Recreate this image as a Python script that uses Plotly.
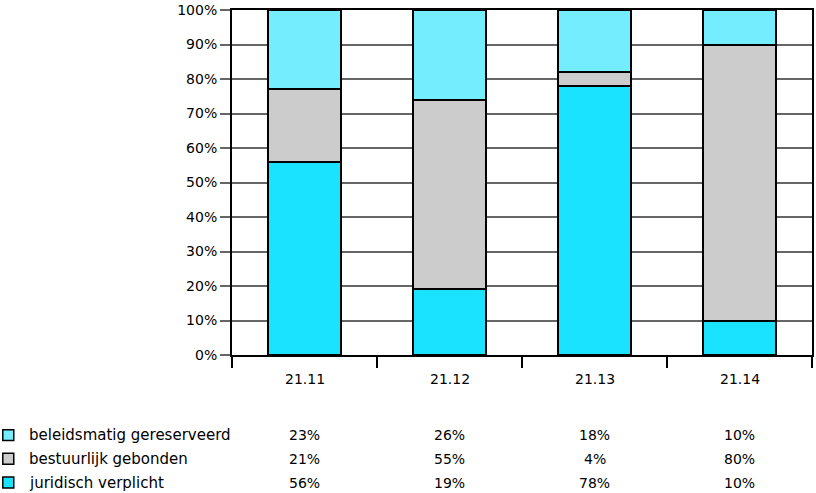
import plotly.graph_objects as go

categories = ["21.11", "21.12", "21.13", "21.14"]
series_names = ["juridisch verplicht", "bestuurlijk gebonden", "beleidsmatig gereserveerd"]
juridisch = [56, 19, 78, 10]
bestuurlijk = [21, 55, 4, 80]
beleidsmatig = [23, 26, 18, 10]
series_values = [juridisch, bestuurlijk, beleidsmatig]
colors = ["#1AE3FF", "#CCCCCC", "#74EEFF"]
y_ticks = [0, 10, 20, 30, 40, 50, 60, 70, 80, 90, 100]
y_tick_labels = [f"{v}%" for v in y_ticks]

FONT = "DejaVu Sans"
W, H = 816, 493
ML, MR, MT, MB = 232, 2, 6, 138
pw = W - ML - MR
ph = H - MT - MB

xpos = list(range(len(categories)))

fig = go.Figure()
for name, vals, col in zip(series_names, series_values, colors):
    fig.add_trace(go.Bar(
        x=xpos, y=vals, name=name, width=0.5,
        marker=dict(color=col, line=dict(color="black", width=2)),
        showlegend=False, hoverinfo="skip",
    ))

annotations = []
for i, c in enumerate(categories):
    annotations.append(dict(x=i, xref="x", y=(355 - 379) / ph, yref="paper",
                            text=c, showarrow=False, xanchor="center", yanchor="middle",
                            font=dict(family=FONT, size=14, color="black")))

table_order = [2, 1, 0]
row_y_px = [436, 460, 484]
shapes = []
for r, si in enumerate(table_order):
    yp = (355 - row_y_px[r]) / ph
    annotations.append(dict(x=(26 - ML) / pw, xref="paper", y=yp, yref="paper",
                            text=series_names[si], showarrow=False,
                            xanchor="left", yanchor="middle",
                            font=dict(family=FONT, size=15, color="black")))
    for i, v in enumerate(series_values[si]):
        annotations.append(dict(x=i, xref="x", y=yp, yref="paper",
                                text=f"{v}%", showarrow=False,
                                xanchor="center", yanchor="middle",
                                font=dict(family=FONT, size=14, color="black")))
    shapes.append(dict(type="rect", xref="paper", yref="paper",
                       x0=(2 - ML) / pw, x1=(13 - ML) / pw,
                       y0=(355 - (row_y_px[r] + 5.5)) / ph, y1=(355 - (row_y_px[r] - 5.5)) / ph,
                       fillcolor=colors[si], line=dict(color="black", width=1.5)))

fig.update_layout(
    barmode="stack",
    width=W, height=H,
    margin=dict(l=ML, r=MR, t=MT, b=MB),
    paper_bgcolor="white", plot_bgcolor="white",
    annotations=annotations,
    shapes=shapes,
    xaxis=dict(range=[-0.5, 3.5], tickvals=[-0.5, 0.5, 1.5, 2.5, 3.5], ticktext=["", "", "", "", ""],
               ticks="outside", ticklen=11, tickwidth=1.5, tickcolor="black",
               showline=True, linecolor="black", linewidth=2, mirror=True,
               showgrid=False, zeroline=False, fixedrange=True),
    yaxis=dict(range=[0, 100], tickvals=y_ticks, ticktext=y_tick_labels,
               ticks="outside", ticklen=10, tickwidth=1.5, tickcolor="#666666",
               showline=True, linecolor="black", linewidth=2, mirror=True,
               showgrid=True, gridcolor="#666666", gridwidth=1.5, zeroline=False,
               ticklabeloverflow="allow",
               tickfont=dict(family=FONT, size=14, color="black"), fixedrange=True),
)

fig.write_html("out.html", config={"displayModeBar": False},
               post_script="document.body.style.margin='0';")
